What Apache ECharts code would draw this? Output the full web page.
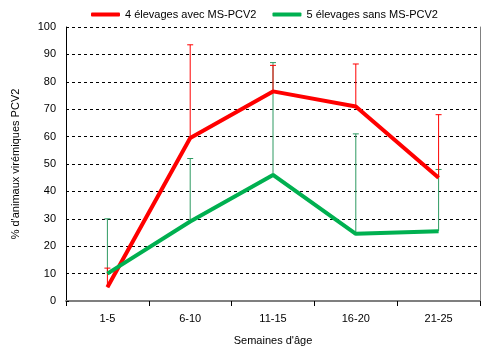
<!DOCTYPE html>
<html>
<head>
<meta charset="utf-8">
<script src="https://cdn.jsdelivr.net/npm/echarts@6/dist/echarts.min.js"></script>
<style>
html,body{margin:0;padding:0;background:#fff;}
#main{width:491px;height:351px;}
</style>
</head>
<body>
<div id="main"></div>
<script>
var categories = ['1-5', '6-10', '11-15', '16-20', '21-25'];
var avecMoy = [5, 59.5, 76.5, 71, 45];
var avecHaut = [12, 93.5, 86, 86.5, 68];
var sansMoy = [10, 29, 46, 24.5, 25.5];
var sansHaut = [30, 52, 87, 61, 48];
var yTicks = [0, 10, 20, 30, 40, 50, 60, 70, 80, 90, 100];

var nomAvec = '4 élevages avec MS-PCV2';
var nomSans = '5 élevages sans MS-PCV2';

function barres(moy, haut) {
    var out = [];
    for (var i = 0; i < moy.length; i++) {
        out.push([i, moy[i], haut[i]]);
    }
    return out;
}

function dessinBarre(couleur) {
    return function (params, api) {
        var bas = api.coord([api.value(0), api.value(1)]);
        var top = api.coord([api.value(0), api.value(2)]);
        var style = {stroke: couleur, lineWidth: 1};
        return {
            type: 'group',
            children: [
                {type: 'line', shape: {x1: bas[0], y1: bas[1], x2: top[0], y2: top[1]}, style: style},
                {type: 'line', shape: {x1: top[0] - 3, y1: top[1], x2: top[0] + 3, y2: top[1]}, style: style}
            ]
        };
    };
}

var police = 'Liberation Sans, Arial, sans-serif';
var myChart = echarts.init(document.getElementById('main'));
var option = {
    animation: false,
    textStyle: {fontFamily: police},
    legend: {
        data: [nomAvec, nomSans],
        top: 4,
        left: 86,
        icon: 'roundRect',
        itemWidth: 29,
        itemHeight: 4,
        itemGap: 16,
        textStyle: {fontFamily: police, fontSize: 11, color: '#000'}
    },
    grid: {left: 66, right: 11, top: 27, bottom: 50},
    xAxis: {
        type: 'category',
        data: categories,
        boundaryGap: true,
        name: "Semaines d'âge",
        nameLocation: 'middle',
        nameGap: 34,
        nameTextStyle: {fontFamily: police, fontSize: 11, color: '#000'},
        axisLine: {lineStyle: {color: '#7f7f7f', width: 2}},
        axisTick: {show: true, length: 5, lineStyle: {color: '#000'}},
        axisLabel: {fontFamily: police, fontSize: 11, color: '#000', margin: 12}
    },
    yAxis: [
        {
            type: 'value',
            min: yTicks[0],
            max: yTicks[yTicks.length - 1],
            interval: 10,
            name: "% d'animaux virémiques PCV2",
            nameLocation: 'middle',
            nameGap: 45,
            nameTextStyle: {fontFamily: police, fontSize: 11, color: '#000'},
            axisLine: {show: true, lineStyle: {color: '#000', width: 1}},
            axisTick: {show: true, inside: true, length: 3, lineStyle: {color: '#000'}},
            axisLabel: {fontFamily: police, fontSize: 11, color: '#000', margin: 10},
            splitLine: {show: true, lineStyle: {color: '#000', type: [3, 3], width: 1}}
        },
        {
            type: 'value',
            position: 'right',
            min: 0,
            max: 100,
            interval: 10,
            axisLine: {show: true, lineStyle: {color: '#808080', width: 1}},
            axisTick: {show: false},
            axisLabel: {show: false},
            splitLine: {show: false}
        }
    ],
    series: [
        {
            type: 'custom',
            renderItem: dessinBarre('#2e9a62'),
            data: barres(sansMoy, sansHaut),
            encode: {x: 0, y: [1, 2]},
            z: 1
        },
        {
            type: 'custom',
            renderItem: dessinBarre('#ff0000'),
            data: barres(avecMoy, avecHaut),
            encode: {x: 0, y: [1, 2]},
            z: 1
        },
        {
            name: nomAvec,
            type: 'line',
            data: avecMoy,
            symbol: 'none',
            lineStyle: {color: '#ff0000', width: 4},
            itemStyle: {color: '#ff0000'},
            z: 3
        },
        {
            name: nomSans,
            type: 'line',
            data: sansMoy,
            symbol: 'none',
            lineStyle: {color: '#00b050', width: 4},
            itemStyle: {color: '#00b050'},
            z: 4
        }
    ]
};
myChart.setOption(option);
</script>
</body>
</html>
